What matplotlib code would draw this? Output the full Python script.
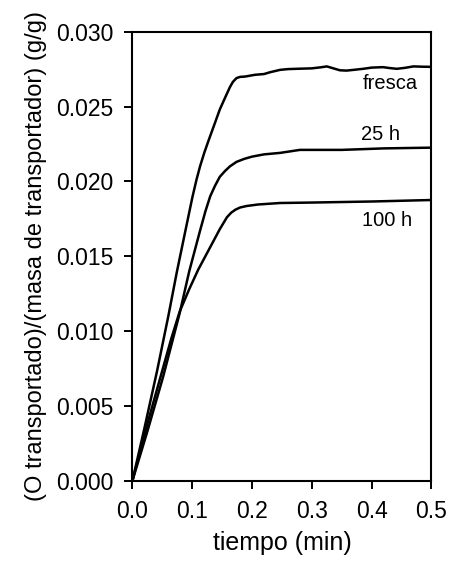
import matplotlib
matplotlib.use("Agg")
import matplotlib.pyplot as plt

# Uptake curves: time (min) vs. transported O per carrier mass (g/g)
t_fresca = [0, 0.020, 0.041, 0.060, 0.074, 0.088, 0.100, 0.107, 0.113, 0.120, 0.127,
            0.137, 0.146, 0.155, 0.163, 0.168, 0.174, 0.180, 0.188, 0.205, 0.220,
            0.230, 0.247, 0.260, 0.275, 0.300, 0.315, 0.325, 0.336, 0.347, 0.358,
            0.370, 0.386, 0.400, 0.419, 0.430, 0.442, 0.455, 0.470, 0.485, 0.500]
y_fresca = [0, 0.0035, 0.0073, 0.0110, 0.0139, 0.0166, 0.0189, 0.0201, 0.0210, 0.0219,
            0.0227, 0.0238, 0.0248, 0.0256, 0.0263, 0.02665, 0.0269, 0.02698, 0.0270,
            0.02712, 0.02717, 0.02729, 0.02745, 0.02750, 0.02752, 0.02755, 0.02762,
            0.02768, 0.02755, 0.02742, 0.02740, 0.02745, 0.02752, 0.02760, 0.02763,
            0.02757, 0.02752, 0.02758, 0.02768, 0.02766, 0.02765]

t_25h = [0, 0.025, 0.051, 0.079, 0.095, 0.105, 0.113, 0.122, 0.130, 0.138, 0.146,
         0.155, 0.163, 0.174, 0.187, 0.200, 0.220, 0.247, 0.280, 0.350, 0.420, 0.500]
y_25h = [0, 0.0033, 0.0069, 0.0112, 0.0140, 0.0155, 0.0167, 0.0180, 0.0190, 0.0197,
         0.0203, 0.0207, 0.0210, 0.0213, 0.0215, 0.02165, 0.0218, 0.0219, 0.0221,
         0.0221, 0.0222, 0.02225]

t_100h = [0, 0.025, 0.046, 0.065, 0.079, 0.095, 0.110, 0.130, 0.146, 0.158, 0.165,
          0.172, 0.180, 0.191, 0.210, 0.247, 0.300, 0.400, 0.500]
y_100h = [0, 0.0038, 0.0068, 0.0095, 0.0113, 0.0128, 0.0141, 0.0156, 0.0168, 0.0176,
          0.0179, 0.0181, 0.01825, 0.01835, 0.01845, 0.01855, 0.01858, 0.01865, 0.01875]

labels = ["fresca", "25 h", "100 h"]
label_x = [0.431, 0.415, 0.426]
label_y = [0.02657, 0.02313, 0.01741]

xticks = [0.0, 0.1, 0.2, 0.3, 0.4, 0.5]
yticks = [0.000, 0.005, 0.010, 0.015, 0.020, 0.025, 0.030]

plt.rcParams["font.family"] = ["Liberation Sans", "DejaVu Sans"]

fig = plt.figure(figsize=(4.5, 5.64), dpi=100)
ax = fig.add_axes([0.2944, 0.148, 0.6644, 0.7958])

for t, y in [(t_fresca, y_fresca), (t_25h, y_25h), (t_100h, y_100h)]:
    ax.plot(t, y, color="black", lw=1.8, solid_joinstyle="round",
            solid_capstyle="round")

for s, x, y in zip(labels, label_x, label_y):
    ax.text(x, y, s, fontsize=14.5, ha="center", va="center")

ax.set_xlim(0, 0.5)
ax.set_ylim(0, 0.030)
ax.set_xticks(xticks)
ax.set_yticks(yticks)
ax.set_xticklabels([f"{v:.1f}" for v in xticks])
ax.set_yticklabels([f"{v:.3f}" for v in yticks])
ax.tick_params(direction="out", length=6, width=1.4, labelsize=16.5, pad=8)
for sp in ax.spines.values():
    sp.set_linewidth(1.5)

ax.set_xlabel("tiempo (min)", fontsize=18, labelpad=6)
ax.set_ylabel("(O transportado)/(masa de transportador) (g/g)", fontsize=17, labelpad=6)

fig.savefig("out.png", dpi=100)
